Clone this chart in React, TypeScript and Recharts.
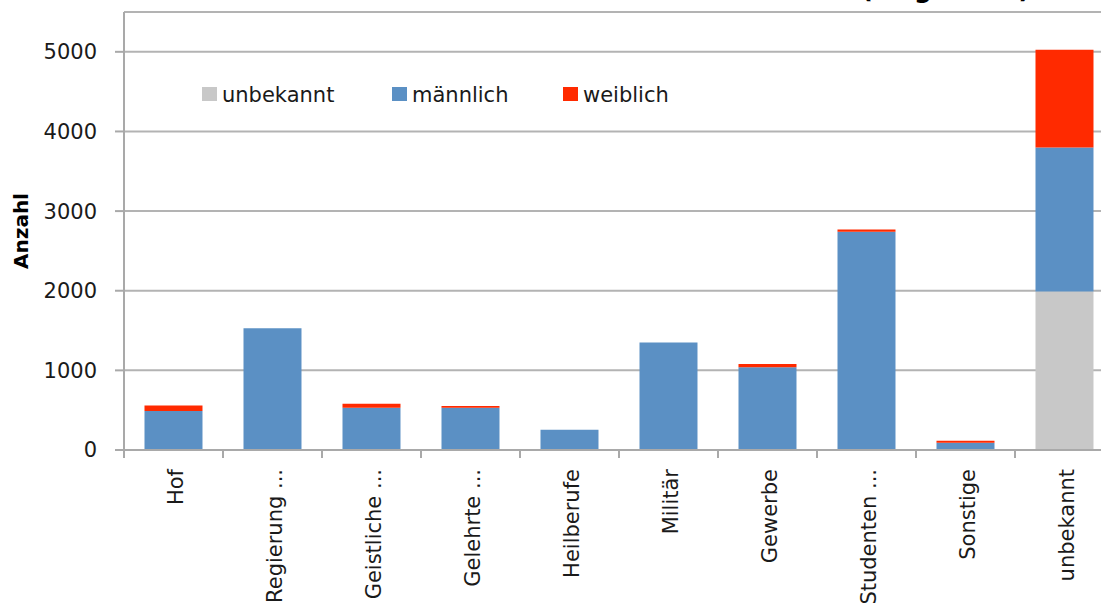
import React from 'react';
import { BarChart, Bar, XAxis, YAxis, CartesianGrid, Legend } from 'recharts';

const categories = ['Hof', 'Regierung ...', 'Geistliche ...', 'Gelehrte ...', 'Heilberufe', 'Militär', 'Gewerbe', 'Studenten ...', 'Sonstige', 'unbekannt'];
const seriesNames = ['unbekannt', 'männlich', 'weiblich'];
const unbekannt = [0, 0, 0, 0, 0, 0, 0, 0, 0, 1990];
const maennlich = [490, 1530, 530, 530, 255, 1350, 1040, 2740, 90, 1810];
const weiblich = [70, 0, 50, 22, 0, 0, 40, 30, 25, 1225];
const yTicks = [0, 1000, 2000, 3000, 4000, 5000];

const data = categories.map((name, i) => ({
  name,
  unbekannt: unbekannt[i],
  männlich: maennlich[i],
  weiblich: weiblich[i],
}));

const AXIS_Y = 450;
const axisColor = '#a9a9a9';
const font = 'DejaVu Sans';

const CategoryTick = (props: any) => {
  const { x, payload } = props;
  const half = payload && payload.offset ? payload.offset : 49.5;
  const bx = x - half;
  return (
    <g>
      <line x1={bx} y1={AXIS_Y} x2={bx} y2={AXIS_Y + 8} stroke={axisColor} strokeWidth={2} />
      <text
        x={x + 9}
        y={469}
        transform={`rotate(-90, ${x + 9}, 469)`}
        textAnchor="end"
        fontSize={21}
        fontFamily={font}
        fill="#1a1a1a"
      >
        {payload.value}
      </text>
    </g>
  );
};

const LegendContent = (props: any) => {
  const items = [...(props.payload || [])].sort(
    (a: any, b: any) => seriesNames.indexOf(a.value) - seriesNames.indexOf(b.value)
  );
  const offsets = [0, 190, 361];
  return (
    <svg width={500} height={30} style={{ overflow: 'visible' }}>
      {items.map((it: any, i: number) => (
        <g key={it.value} transform={`translate(${offsets[i]},0)`}>
          <rect x={2} y={7} width={15} height={14} fill={it.color} />
          <text x={22} y={22} fontSize={21} fontFamily={font} fill="#1a1a1a">
            {it.value}
          </text>
        </g>
      ))}
    </svg>
  );
};

export default function App() {
  return (
    <div style={{ position: 'fixed', left: 0, top: 0, width: 1101, height: 604, overflow: 'hidden', background: '#fff' }}>
      <svg width={1101} height={20} style={{ position: 'absolute', left: 0, top: 0 }}>
        <text x={1030} y={-2} textAnchor="end" fontSize={25} fontWeight="bold" fontFamily={font} fill="#000">
          (insgesamt)
        </text>
      </svg>
      <BarChart
        width={1120}
        height={604}
        data={data}
        margin={{ top: 12, right: 6, bottom: 0, left: 0 }}
        barCategoryGap="20.7%"
        style={{ fontFamily: font }}
      >
        <CartesianGrid vertical={false} stroke="#b3b3b3" strokeWidth={2} />
        <XAxis
          dataKey="name"
          interval={0}
          height={154}
          tickLine={false}
          axisLine={{ stroke: axisColor, strokeWidth: 2 }}
          tick={<CategoryTick />}
        />
        <YAxis
          width={124}
          domain={[0, 5500]}
          ticks={yTicks}
          tickSize={9}
          tickMargin={18}
          axisLine={{ stroke: axisColor, strokeWidth: 2 }}
          tickLine={{ stroke: axisColor, strokeWidth: 2 }}
          tick={{ fill: '#1a1a1a', fontSize: 21, fontFamily: font }}
          label={{
            value: 'Anzahl',
            angle: -90,
            position: 'insideLeft',
            offset: 21,
            style: { textAnchor: 'middle', fontWeight: 'bold', fontSize: 20, fill: '#000', fontFamily: font },
          }}
        />
        <Legend
          content={<LegendContent />}
          wrapperStyle={{ position: 'absolute', top: 80, left: 200, width: 500, height: 0, overflow: 'visible' }}
        />
        <Bar dataKey="unbekannt" stackId="a" fill="#c8c8c8" isAnimationActive={false} />
        <Bar dataKey="männlich" stackId="a" fill="#5b90c4" isAnimationActive={false} />
        <Bar dataKey="weiblich" stackId="a" fill="#ff2a00" isAnimationActive={false} />
      </BarChart>
    </div>
  );
}
